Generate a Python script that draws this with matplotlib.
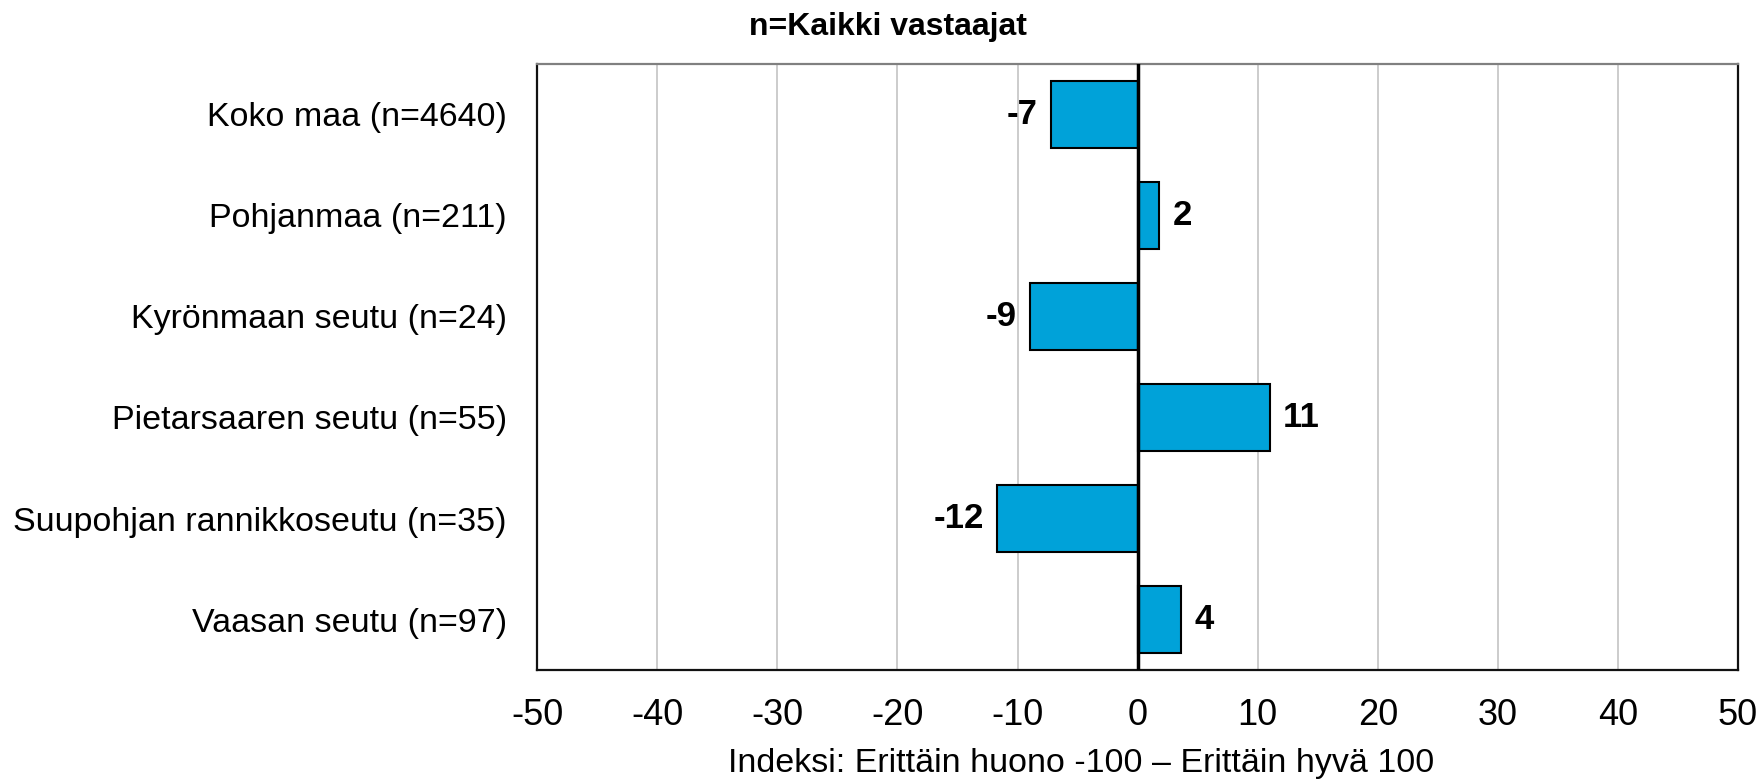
import matplotlib.pyplot as plt

plt.rcParams['font.family'] = ['Liberation Sans', 'DejaVu Sans']

categories = ["Koko maa (n=4640)", "Pohjanmaa (n=211)", "Kyrönmaan seutu (n=24)",
              "Pietarsaaren seutu (n=55)", "Suupohjan rannikkoseutu (n=35)", "Vaasan seutu (n=97)"]
values = [-7.2, 1.8, -9.0, 11.0, -11.7, 3.6]
labels = ["-7", "2", "-9", "11", "-12", "4"]
xticks = [-50, -40, -30, -20, -10, 0, 10, 20, 30, 40, 50]

fig = plt.figure(figsize=(17.62, 7.82), dpi=100)
ax = fig.add_axes([0.3049, 0.1432, 0.9864 - 0.3049, 0.9182 - 0.1432])

pos = list(range(len(categories)))
ax.barh(pos, values, height=0.67, color='#00A2D9', edgecolor='black', linewidth=1.5, zorder=3)
for p, v, lab in zip(pos, values, labels):
    if v < 0:
        ax.text(v - 1.1, p, lab, ha='right', va='center', fontsize=25, fontweight='bold', zorder=4)
    else:
        ax.text(v + 1.1, p, lab, ha='left', va='center', fontsize=25, fontweight='bold', zorder=4)

ax.axvline(0, color='black', linewidth=2.5, zorder=4)
ax.set_xlim(-50, 50)
ax.set_ylim(len(categories) - 0.5, -0.5)
ax.set_yticks(pos)
ax.set_yticklabels(categories, fontsize=24.5)
ax.set_xticks(xticks)
ax.set_xticklabels([str(t) for t in xticks], fontsize=26)
ax.tick_params(axis='both', length=0)
ax.tick_params(axis='x', pad=20)
ax.tick_params(axis='y', pad=22)
ax.grid(axis='x', color='#c8c8c8', linewidth=1.3, zorder=0)

ax.spines['top'].set_color('#808080')
for s in ['top', 'bottom', 'left', 'right']:
    ax.spines[s].set_linewidth(1.6)
for s in ['bottom', 'left', 'right']:
    ax.spines[s].set_color('#111111')

ax.set_xlabel('Indeksi: Erittäin huono -100 – Erittäin hyvä 100', fontsize=24.5)
ax.xaxis.set_label_coords(0.453, -0.155)
ax.xaxis.label.set_va('center')
fig.text(0.504, 0.965, 'n=Kaikki vastaajat', fontsize=23, fontweight='bold', ha='center', va='center')

fig.savefig('out.png', dpi=100)
